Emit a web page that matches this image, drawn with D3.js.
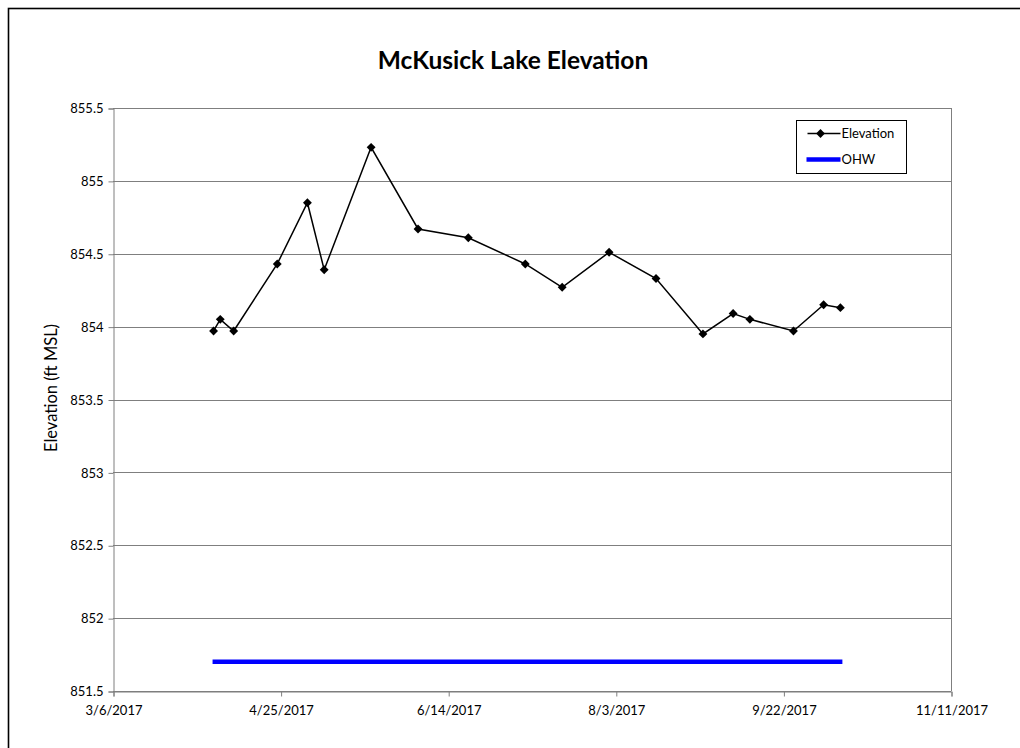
<!DOCTYPE html>
<html>
<head>
<meta charset="utf-8">
<script src="https://cdn.jsdelivr.net/npm/d3@7"></script>
<style>
  html, body { margin: 0; padding: 0; background: #fff; }
  svg { display: block; }
  text { font-family: Lato, "Liberation Sans", sans-serif; fill: #000; }
</style>
</head>
<body>
<svg id="chart" width="1020" height="748"></svg>
<script>
// Survey dates and measured lake elevations (ft MSL)
const dates = ["4/5/2017", "4/7/2017", "4/11/2017", "4/24/2017", "5/3/2017", "5/8/2017",
  "5/22/2017", "6/5/2017", "6/20/2017", "7/7/2017", "7/18/2017", "8/1/2017",
  "8/15/2017", "8/29/2017", "9/7/2017", "9/12/2017", "9/25/2017", "10/4/2017", "10/9/2017"];
const elevation = [853.97, 854.05, 853.97, 854.43, 854.85, 854.39,
  855.23, 854.67, 854.61, 854.43, 854.27, 854.51,
  854.33, 853.95, 854.09, 854.05, 853.97, 854.15, 854.13];
// Ordinary high water level
const ohw = 851.7;

const xDomain = ["3/6/2017", "11/11/2017"];
const xTickLabels = ["3/6/2017", "4/25/2017", "6/14/2017", "8/3/2017", "9/22/2017", "11/11/2017"];
const yTicks = [851.5, 852, 852.5, 853, 853.5, 854, 854.5, 855, 855.5];

const parse = d3.utcParse("%m/%d/%Y");
const fmt = d3.utcFormat("%-m/%-d/%Y");

const svg = d3.select("#chart");
const plot = { left: 113, top: 108, right: 951, bottom: 691 };

// Outer chart frame
svg.append("rect")
  .attr("x", 8.5).attr("y", 8.5)
  .attr("width", 1040).attr("height", 760)
  .attr("fill", "none").attr("stroke", "#000").attr("stroke-width", 1.6);

const x = d3.scaleUtc().domain(xDomain.map(parse)).range([plot.left, plot.right]);
const y = d3.scaleLinear().domain([851.5, 855.5]).range([plot.bottom, plot.top]);

// Horizontal gridlines
svg.append("g")
  .selectAll("line")
  .data(yTicks)
  .join("line")
  .attr("x1", plot.left).attr("x2", plot.right)
  .attr("y1", d => Math.round(y(d)) + 0.5).attr("y2", d => Math.round(y(d)) + 0.5)
  .attr("stroke", "#7f7f7f").attr("stroke-width", 1);

// Right border of the plot area
svg.append("line")
  .attr("x1", plot.right + 0.5).attr("x2", plot.right + 0.5)
  .attr("y1", plot.top).attr("y2", plot.bottom)
  .attr("stroke", "#7f7f7f");

// Y axis
const yAxis = svg.append("g")
  .attr("transform", `translate(${plot.left + 0.5},0.5)`)
  .call(d3.axisLeft(y).tickValues(yTicks).tickFormat(d3.format("")).tickSize(5).tickPadding(5));
yAxis.select(".domain").attr("stroke", "#7f7f7f");
yAxis.selectAll(".tick line").attr("stroke", "#7f7f7f");
yAxis.selectAll("text").attr("font-size", 13).attr("fill", "#000")
  .style("font-family", "Lato, sans-serif");

// X axis
const xAxis = svg.append("g")
  .attr("transform", `translate(0.5,${plot.bottom + 0.5})`)
  .call(d3.axisBottom(x).tickValues(xTickLabels.map(parse)).tickFormat(fmt).tickSize(5).tickPadding(9));
xAxis.select(".domain").attr("stroke", "#7f7f7f");
xAxis.selectAll(".tick line").attr("stroke", "#7f7f7f");
xAxis.selectAll("text").attr("font-size", 13).attr("fill", "#000")
  .style("font-family", "Lato, sans-serif");

// OHW reference line
svg.append("line")
  .attr("x1", x(parse(dates[0])) - 1).attr("x2", x(parse(dates[dates.length - 1])) + 2)
  .attr("y1", y(ohw)).attr("y2", y(ohw))
  .attr("stroke", "#0000ff").attr("stroke-width", 4.5);

// Elevation series
const pts = dates.map((d, i) => ({ date: parse(d), value: elevation[i] }));
svg.append("path")
  .datum(pts)
  .attr("fill", "none").attr("stroke", "#000").attr("stroke-width", 1.5)
  .attr("d", d3.line().x(d => x(d.date)).y(d => y(d.value)));

const diamond = d3.symbol().type(d3.symbolDiamond2).size(50);
svg.append("g")
  .selectAll("path")
  .data(pts)
  .join("path")
  .attr("d", diamond)
  .attr("transform", d => `translate(${x(d.date)},${y(d.value)})`)
  .attr("fill", "#000");

// Title
svg.append("text")
  .attr("x", 513).attr("y", 69)
  .attr("text-anchor", "middle")
  .attr("font-size", 24.5).attr("font-weight", "bold")
  .text("McKusick Lake Elevation");

// Y axis title
svg.append("text")
  .attr("transform", "translate(57,388) rotate(-90)")
  .attr("text-anchor", "middle")
  .attr("font-size", 16.5)
  .text("Elevation (ft MSL)");

// Legend
const legend = svg.append("g").attr("transform", "translate(796.5,120.5)");
legend.append("rect")
  .attr("width", 110).attr("height", 53)
  .attr("fill", "#fff").attr("stroke", "#000").attr("stroke-width", 1);
legend.append("line")
  .attr("x1", 11).attr("x2", 44).attr("y1", 13).attr("y2", 13)
  .attr("stroke", "#000").attr("stroke-width", 1.5);
legend.append("path")
  .attr("d", diamond)
  .attr("transform", "translate(24,13)")
  .attr("fill", "#000");
legend.append("text")
  .attr("x", 45).attr("y", 17.5)
  .attr("font-size", 13)
  .text("Elevation");
legend.append("line")
  .attr("x1", 10).attr("x2", 44).attr("y1", 39).attr("y2", 39)
  .attr("stroke", "#0000ff").attr("stroke-width", 4.5);
legend.append("text")
  .attr("x", 45).attr("y", 43.5)
  .attr("font-size", 13)
  .text("OHW");
</script>
</body>
</html>
